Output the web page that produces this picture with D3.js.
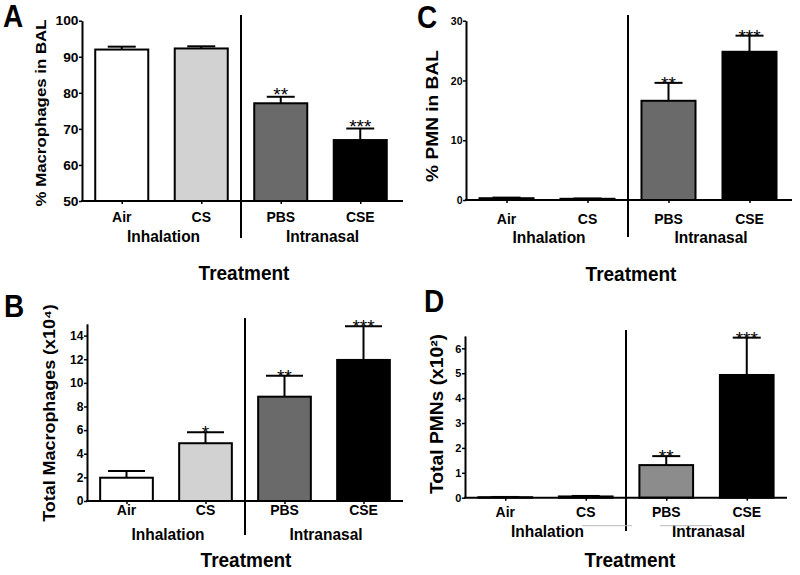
<!DOCTYPE html>
<html><head><meta charset="utf-8">
<script src="https://cdn.jsdelivr.net/npm/d3@7"></script>
<style>
body{margin:0;background:#fff;}
svg{display:block;font-family:"Liberation Sans",Arial,sans-serif;}
</style></head>
<body><svg id="chart" width="800" height="575"></svg>
<script>
// ---- data ----
const categories = ["Air", "CS", "PBS", "CSE"];
const groupLabels = ["Inhalation", "Intranasal"];
const xTitle = "Treatment";

const macroPctMean = [92.0, 92.3, 77.1, 66.9];
const macroPctErr  = [0.8, 0.6, 1.8, 3.2];
const macroPctStars = ["", "", "**", "***"];
const macroPctTicks = [50, 60, 70, 80, 90, 100];

const macroTotMean = [1.97, 4.89, 8.83, 11.94];
const macroTotErr  = [0.57, 0.93, 1.77, 2.86];
const macroTotStars = ["", "*", "**", "***"];
const macroTotTicks = [0, 2, 4, 6, 8, 10, 12, 14];

const pmnPctMean = [0.3, 0.2, 16.6, 24.8];
const pmnPctErr  = [0.1, 0.05, 3.0, 2.7];
const pmnPctStars = ["", "", "**", "***"];
const pmnPctTicks = [0, 10, 20, 30];

const pmnTotMean = [0.02, 0.05, 1.31, 4.93];
const pmnTotErr  = [0.01, 0.02, 0.36, 1.50];
const pmnTotStars = ["", "", "**", "***"];
const pmnTotTicks = [0, 1, 2, 3, 4, 5, 6];

// ---- layout ----
const SY = 1.1; // vertical stretch of the reference image
const panels = [
  {letter:"A", lx:3, ly:27, mean:macroPctMean, err:macroPctErr, stars:macroPctStars, ticks:macroPctTicks,
   domain:[50,100], x0:82, x1:400, xEnd:403, y0:201, y1:20.7, divTop:15, divBot:238,
   fills:["#ffffff","#d2d2d2","#6a6a6a","#000000"], cap:28, starOff:4, tickFont:12, tickSx:1.15,
   catY:222, grpY:242, titleX:244, titleY:280, ytitle:"% Macrophages in BAL", ytx:46, yty:113, ytFont:15.3},
  {letter:"C", lx:417, ly:28, mean:pmnPctMean, err:pmnPctErr, stars:pmnPctStars, ticks:pmnPctTicks,
   domain:[0,30], x0:466, x1:790, xEnd:792, y0:200, y1:20.7, divTop:15, divBot:237,
   fills:["#ffffff","#d2d2d2","#6a6a6a","#000000"], cap:28, starOff:7, tickFont:10.5, tickSx:1.0,
   catY:224, grpY:243, titleX:631, titleY:281, ytitle:"% PMN in BAL", ytx:438, yty:116, ytFont:17.4},
  {letter:"B", lx:4, ly:317, mean:macroTotMean, err:macroTotErr, stars:macroTotStars, ticks:macroTotTicks,
   domain:[0,15], x0:87, x1:403, xEnd:403, y0:501, y1:323.8, divTop:318, divBot:535,
   fills:["#ffffff","#d2d2d2","#6a6a6a","#000000"], cap:37, starOff:7, tickFont:11, tickSx:1.1,
   catY:515, grpY:540, titleX:246, titleY:567, ytitle:"Total Macrophages (x10\u2074)", ytx:55, yty:413, ytFont:16.3},
  {letter:"D", lx:424, ly:312, mean:pmnTotMean, err:pmnTotErr, stars:pmnTotStars, ticks:pmnTotTicks,
   domain:[0,6.5], x0:465, x1:787, xEnd:787, y0:497.7, y1:335.9, divTop:330, divBot:531,
   fills:["#ffffff","#d2d2d2","#8c8c8c","#000000"], cap:28, starOff:7, tickFont:10.5, tickSx:1.05,
   catY:517, grpY:537, titleX:630, titleY:567, ytitle:"Total PMNs (x10\u00b2)", ytx:443, yty:414, ytFont:17.5}
];

const svg = d3.select("#chart");

function txt(g, x, y, s, size, opts) {
  const o = Object.assign({sx:1, sy:SY, anchor:"middle", weight:"bold", rot:false, dy:null}, opts || {});
  const tr = o.rot ? `translate(${x},${y}) rotate(-90) scale(${o.sy},${o.sx})`
                   : `translate(${x},${y}) scale(${o.sx},${o.sy})`;
  const t = g.append("text").attr("transform", tr)
    .attr("text-anchor", o.anchor).attr("font-size", size)
    .attr("font-weight", o.weight).attr("fill", "#000").text(s);
  if (o.dy) t.attr("dy", o.dy);
  return t;
}

panels.forEach(p => {
  const g = svg.append("g");
  const x = d3.scalePoint().domain(categories).range([p.x0, p.x1]).padding(0.5);
  const step = x.step();
  const bw = step * 0.667;
  const y = d3.scaleLinear().domain(p.domain).range([p.y0, p.y1]);
  const base = p.domain[0];

  // bars
  g.selectAll("rect.bar").data(categories).enter().append("rect")
    .attr("x", (d) => x(d) - bw/2)
    .attr("y", (d,i) => y(p.mean[i]))
    .attr("width", bw)
    .attr("height", (d,i) => Math.max(0.5, y(base) - y(p.mean[i])))
    .attr("fill", (d,i) => p.fills[i])
    .attr("stroke", "#000").attr("stroke-width", 2);

  // error bars
  categories.forEach((c,i) => {
    const top = y(p.mean[i] + p.err[i]);
    g.append("line").attr("x1", x(c)).attr("x2", x(c))
      .attr("y1", y(p.mean[i])).attr("y2", top)
      .attr("stroke", "#000").attr("stroke-width", 2);
    g.append("line").attr("x1", x(c) - p.cap/2).attr("x2", x(c) + p.cap/2)
      .attr("y1", top).attr("y2", top)
      .attr("stroke", "#000").attr("stroke-width", 2);
    if (p.stars[i]) {
      txt(g, x(c), top + p.starOff, p.stars[i], 19, {weight:"normal", sy:1});
    }
  });

  // y axis
  const yAxis = d3.axisLeft(y).tickValues(p.ticks).tickSize(3).tickSizeOuter(0).tickFormat("");
  const ya = g.append("g").attr("transform", `translate(${p.x0},0)`).call(yAxis);
  ya.select(".domain").attr("stroke-width", 2);
  ya.selectAll(".tick line").attr("stroke-width", 1.5);
  p.ticks.forEach(t => {
    txt(g, p.x0 - 3.5, y(t), d3.format("~g")(t), p.tickFont, {anchor:"end", sx:p.tickSx, dy:"0.36em"});
  });

  // x axis
  const xAxis = d3.axisBottom(x).tickSize(3).tickSizeOuter(0).tickFormat("");
  const xa = g.append("g").attr("transform", `translate(0,${p.y0})`).call(xAxis);
  xa.select(".domain").remove();
  xa.selectAll(".tick line").attr("stroke-width", 1.5);
  g.append("line").attr("x1", p.x0 - 1).attr("x2", p.xEnd)
    .attr("y1", p.y0).attr("y2", p.y0).attr("stroke", "#000").attr("stroke-width", 2);

  // category labels
  categories.forEach(c => txt(g, x(c), p.catY, c, 14));

  // group labels
  const mid1 = (x(categories[0]) + x(categories[1])) / 2;
  const mid2 = (x(categories[2]) + x(categories[3])) / 2;
  [mid1, mid2].forEach((m, i) => txt(g, m + 2, p.grpY, groupLabels[i], 15.5));

  // divider
  const dx = (x(categories[1]) + x(categories[2])) / 2;
  g.append("line").attr("x1", dx).attr("x2", dx).attr("y1", p.divTop).attr("y2", p.divBot)
    .attr("stroke", "#000").attr("stroke-width", 2);

  // x title
  txt(g, p.titleX, p.titleY, xTitle, 19);

  // y title
  txt(g, p.ytx, p.yty, p.ytitle, p.ytFont, {rot:true});

  // panel letter
  txt(g, p.lx, p.ly, p.letter, 28, {anchor:"start"});

  if (p.letter === "D") {
    // faint bracket remnants under group labels
    g.append("line").attr("x1", 582).attr("x2", 632).attr("y1", 525.7).attr("y2", 525.7)
      .attr("stroke", "#bbbbbb").attr("stroke-width", 1);
    g.append("line").attr("x1", 660).attr("x2", 712).attr("y1", 525.7).attr("y2", 525.7)
      .attr("stroke", "#bbbbbb").attr("stroke-width", 1);
  }
});
</script>
</body></html>
